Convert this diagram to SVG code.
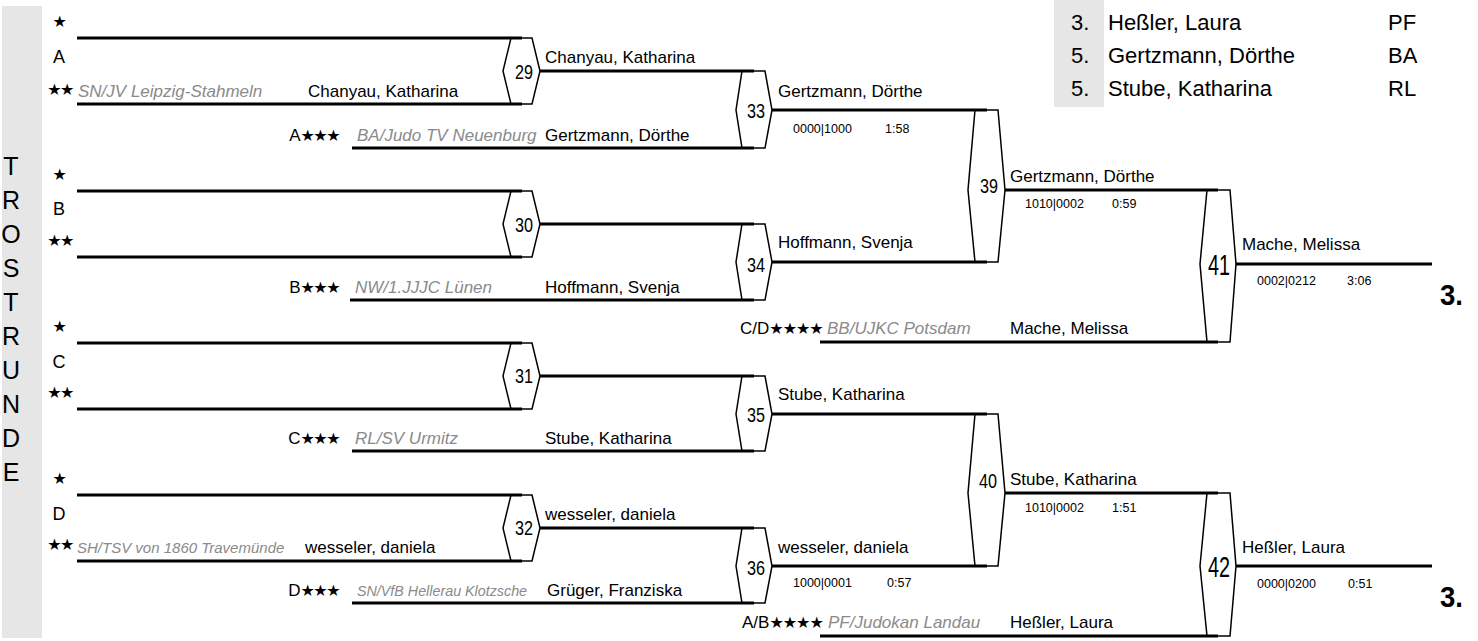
<svg xmlns="http://www.w3.org/2000/svg" width="1478" height="641" viewBox="0 0 1478 641">
<style>
.bg{fill:#e6e6e6}
.ln{stroke:#000;stroke-width:3;fill:none}
.hx{stroke:#000;stroke-width:1.5;fill:none;stroke-linejoin:miter}
text{font-family:"Liberation Sans",Arial,sans-serif;fill:#000}
.nm{font-size:17px}
.cl{font-size:17px;font-style:italic;fill:#8a8a8a}
.st{font-family:"DejaVu Sans",sans-serif;font-size:16px;letter-spacing:-1.5px}
.st4{font-family:"DejaVu Sans",sans-serif;font-size:16px;letter-spacing:-1px}
.lt{font-size:18px}
.tr{font-size:25px}
.sm{font-size:12.5px}
.hn{font-size:20px;text-anchor:middle}
.hb{font-size:30px;text-anchor:middle}
.pl{font-size:30px;font-weight:bold}
.rs{font-size:22px}
</style>

<!-- left side label -->
<g id="side">
<rect class="bg" x="2" y="6" width="40" height="632"/>
<text class="tr" text-anchor="middle" x="11" y="175">T</text>
<text class="tr" text-anchor="middle" x="11" y="209">R</text>
<text class="tr" text-anchor="middle" x="11" y="243">O</text>
<text class="tr" text-anchor="middle" x="11" y="277">S</text>
<text class="tr" text-anchor="middle" x="11" y="311">T</text>
<text class="tr" text-anchor="middle" x="11" y="345">R</text>
<text class="tr" text-anchor="middle" x="11" y="379">U</text>
<text class="tr" text-anchor="middle" x="11" y="413">N</text>
<text class="tr" text-anchor="middle" x="11" y="447">D</text>
<text class="tr" text-anchor="middle" x="11" y="481">E</text>
</g>

<!-- result box -->
<g id="results">
<rect class="bg" x="1054" y="0" width="50" height="107"/>
<text class="rs" x="1071" y="30">3.</text><text class="rs" x="1108" y="30">Heßler, Laura</text><text class="rs" x="1388" y="30">PF</text>
<text class="rs" x="1071" y="63">5.</text><text class="rs" x="1108" y="63">Gertzmann, Dörthe</text><text class="rs" x="1388" y="63">BA</text>
<text class="rs" x="1071" y="96">5.</text><text class="rs" x="1108" y="96">Stube, Katharina</text><text class="rs" x="1388" y="96">RL</text>
</g>

<!-- connectors -->
<g id="connectors">
<line class="ln" x1="77" y1="38" x2="522" y2="38"/>
<line class="ln" x1="77" y1="104" x2="522" y2="104"/>
<line class="ln" x1="77" y1="191" x2="522" y2="191"/>
<line class="ln" x1="77" y1="257" x2="522" y2="257"/>
<line class="ln" x1="77" y1="343" x2="522" y2="343"/>
<line class="ln" x1="77" y1="409" x2="522" y2="409"/>
<line class="ln" x1="77" y1="495" x2="522" y2="495"/>
<line class="ln" x1="77" y1="561" x2="522" y2="561"/>

<line class="ln" x1="540" y1="71" x2="754" y2="71"/>
<line class="ln" x1="352" y1="148" x2="754" y2="148"/>
<line class="ln" x1="540" y1="224" x2="754" y2="224"/>
<line class="ln" x1="350" y1="300" x2="754" y2="300"/>
<line class="ln" x1="540" y1="376" x2="754" y2="376"/>
<line class="ln" x1="352" y1="451" x2="754" y2="451"/>
<line class="ln" x1="540" y1="528" x2="754" y2="528"/>
<line class="ln" x1="352" y1="603" x2="754" y2="603"/>

<line class="ln" x1="772" y1="110" x2="987" y2="110"/>
<line class="ln" x1="772" y1="262" x2="987" y2="262"/>
<line class="ln" x1="772" y1="414" x2="987" y2="414"/>
<line class="ln" x1="772" y1="566" x2="987" y2="566"/>

<line class="ln" x1="1005" y1="190" x2="1218" y2="190"/>
<line class="ln" x1="820" y1="342" x2="1218" y2="342"/>
<line class="ln" x1="1005" y1="493" x2="1218" y2="493"/>
<line class="ln" x1="820" y1="636" x2="1218" y2="636"/>

<line class="ln" x1="1236" y1="264" x2="1432" y2="264"/>
<line class="ln" x1="1236" y1="566" x2="1432" y2="566"/>
</g>

<!-- matches -->
<g id="m29"><polygon class="hx" points="511,38 532,38 540,71 532,104 511,104 503,71"/><text class="hn" x="524" y="79" textLength="18" lengthAdjust="spacingAndGlyphs">29</text></g>
<g id="m30"><polygon class="hx" points="511,191 532,191 540,224 532,257 511,257 503,224"/><text class="hn" x="524" y="232" textLength="18" lengthAdjust="spacingAndGlyphs">30</text></g>
<g id="m31"><polygon class="hx" points="511,343 532,343 540,376 532,409 511,409 503,376"/><text class="hn" x="524" y="383" textLength="18" lengthAdjust="spacingAndGlyphs">31</text></g>
<g id="m32"><polygon class="hx" points="511,495 532,495 540,528 532,561 511,561 503,528"/><text class="hn" x="524" y="535" textLength="18" lengthAdjust="spacingAndGlyphs">32</text></g>

<g id="m33"><polygon class="hx" points="742,71 765,71 772,110 765,148 742,148 736,110"/><text class="hn" x="756" y="118" textLength="18" lengthAdjust="spacingAndGlyphs">33</text></g>
<g id="m34"><polygon class="hx" points="742,224 765,224 772,262 765,300 742,300 736,262"/><text class="hn" x="756" y="272" textLength="18" lengthAdjust="spacingAndGlyphs">34</text></g>
<g id="m35"><polygon class="hx" points="742,376 765,376 772,414 765,451 742,451 736,414"/><text class="hn" x="756" y="422" textLength="18" lengthAdjust="spacingAndGlyphs">35</text></g>
<g id="m36"><polygon class="hx" points="742,528 765,528 772,566 765,603 742,603 736,566"/><text class="hn" x="756" y="575" textLength="18" lengthAdjust="spacingAndGlyphs">36</text></g>

<g id="m39"><polygon class="hx" points="975,110 998,110 1005,190 998,262 975,262 968,190"/><text class="hn" x="989" y="193" textLength="18" lengthAdjust="spacingAndGlyphs">39</text></g>
<g id="m40"><polygon class="hx" points="975,414 998,414 1005,493 998,566 975,566 968,493"/><text class="hn" x="988" y="488" textLength="18" lengthAdjust="spacingAndGlyphs">40</text></g>

<g id="m41"><polygon class="hx" points="1207,190 1230,190 1236,264 1230,342 1207,342 1200,264"/><text class="hb" x="1219" y="275" textLength="22" lengthAdjust="spacingAndGlyphs">41</text></g>
<g id="m42"><polygon class="hx" points="1207,493 1230,493 1236,566 1230,636 1207,636 1200,566"/><text class="hb" x="1219" y="577" textLength="22" lengthAdjust="spacingAndGlyphs">42</text></g>

<!-- pool A -->
<g id="poolA">
<text class="st" x="59" y="27" text-anchor="middle">★</text>
<text class="lt" x="59" y="63" text-anchor="middle">A</text>
<text class="st" x="60" y="95" text-anchor="middle">★★</text>
<text class="cl" x="78" y="97">SN/JV Leipzig-Stahmeln</text>
<text class="nm" x="308" y="97">Chanyau, Katharina</text>
<text class="nm" x="339" y="141" text-anchor="end">A<tspan class="st">★★★</tspan></text>
<text class="cl" x="357" y="141">BA/Judo TV Neuenburg</text>
<text class="nm" x="545" y="141">Gertzmann, Dörthe</text>
<text class="nm" x="545" y="63">Chanyau, Katharina</text>
</g>

<!-- pool B -->
<g id="poolB">
<text class="st" x="59" y="180" text-anchor="middle">★</text>
<text class="lt" x="59" y="215" text-anchor="middle">B</text>
<text class="st" x="60" y="246" text-anchor="middle">★★</text>
<text class="nm" x="339" y="293" text-anchor="end">B<tspan class="st">★★★</tspan></text>
<text class="cl" x="355" y="293">NW/1.JJJC Lünen</text>
<text class="nm" x="545" y="293">Hoffmann, Svenja</text>
</g>

<!-- pool C -->
<g id="poolC">
<text class="st" x="59" y="332" text-anchor="middle">★</text>
<text class="lt" x="59" y="368" text-anchor="middle">C</text>
<text class="st" x="60" y="398" text-anchor="middle">★★</text>
<text class="nm" x="339" y="444" text-anchor="end">C<tspan class="st">★★★</tspan></text>
<text class="cl" x="355" y="444">RL/SV Urmitz</text>
<text class="nm" x="545" y="444">Stube, Katharina</text>
</g>

<!-- pool D -->
<g id="poolD">
<text class="st" x="59" y="484" text-anchor="middle">★</text>
<text class="lt" x="59" y="520" text-anchor="middle">D</text>
<text class="st" x="60" y="550" text-anchor="middle">★★</text>
<text class="cl" x="77" y="553" style="font-size:15px">SH/TSV von 1860 Travemünde</text>
<text class="nm" x="305" y="553">wesseler, daniela</text>
<text class="nm" x="339" y="596" text-anchor="end">D<tspan class="st">★★★</tspan></text>
<text class="cl" x="357" y="596" style="font-size:14.3px">SN/VfB Hellerau Klotzsche</text>
<text class="nm" x="547" y="596">Grüger, Franziska</text>
<text class="nm" x="545" y="520">wesseler, daniela</text>
</g>

<!-- round 3 -->
<g id="r3">
<text class="nm" x="778" y="97">Gertzmann, Dörthe</text>
<text class="sm" x="793" y="133">0000|1000</text><text class="sm" x="885" y="133">1:58</text>
<text class="nm" x="778" y="248">Hoffmann, Svenja</text>
<text class="nm" x="778" y="400">Stube, Katharina</text>
<text class="nm" x="778" y="553">wesseler, daniela</text>
<text class="sm" x="793" y="587">1000|0001</text><text class="sm" x="887" y="587">0:57</text>
</g>

<!-- round 4 -->
<g id="r4">
<text class="nm" x="1010" y="182">Gertzmann, Dörthe</text>
<text class="sm" x="1025" y="208">1010|0002</text><text class="sm" x="1112" y="208">0:59</text>
<text class="nm" x="740" y="334">C/D<tspan class="st4">★★★★</tspan></text>
<text class="cl" x="827" y="334">BB/UJKC Potsdam</text>
<text class="nm" x="1010" y="334">Mache, Melissa</text>
<text class="nm" x="1010" y="485">Stube, Katharina</text>
<text class="sm" x="1025" y="512">1010|0002</text><text class="sm" x="1112" y="512">1:51</text>
<text class="nm" x="742" y="628">A/B<tspan class="st4">★★★★</tspan></text>
<text class="cl" x="828" y="628">PF/Judokan Landau</text>
<text class="nm" x="1010" y="628">Heßler, Laura</text>
</g>

<!-- round 5 / bronze -->
<g id="r5">
<text class="nm" x="1242" y="250">Mache, Melissa</text>
<text class="sm" x="1257" y="285">0002|0212</text><text class="sm" x="1347" y="285">3:06</text>
<text class="pl" x="1440" y="305" textLength="23" lengthAdjust="spacingAndGlyphs">3.</text>
<text class="nm" x="1242" y="553">Heßler, Laura</text>
<text class="sm" x="1257" y="588">0000|0200</text><text class="sm" x="1348" y="588">0:51</text>
<text class="pl" x="1440" y="607" textLength="23" lengthAdjust="spacingAndGlyphs">3.</text>
</g>
</svg>
